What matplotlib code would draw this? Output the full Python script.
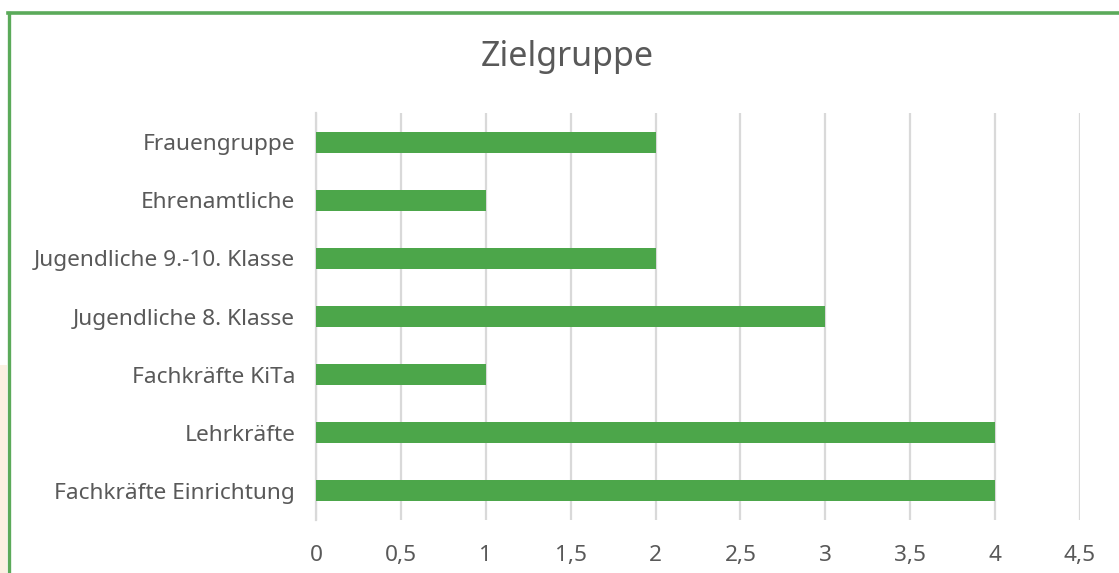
import matplotlib
matplotlib.use("Agg")
import matplotlib.pyplot as plt
from matplotlib.patches import Rectangle
from matplotlib.lines import Line2D
from matplotlib.ticker import FuncFormatter, MultipleLocator

categories = ["Fachkräfte Einrichtung", "Lehrkräfte", "Fachkräfte KiTa",
              "Jugendliche 8. Klasse", "Jugendliche 9.-10. Klasse",
              "Ehrenamtliche", "Frauengruppe"]
values = [4, 4, 1, 3, 2, 1, 2]
title = "Zielgruppe"

W, H = 1119, 573
plt.rcParams['font.family'] = ['Noto Sans', 'DejaVu Sans']
fig = plt.figure(figsize=(W / 100, H / 100), dpi=100)
fig.patch.set_facecolor("white")

def fx(px):
    return px / W

def fy(py):
    return 1 - py / H

# beige strip at left and green frame
fig.add_artist(Rectangle((0, 0), fx(7), fy(365), transform=fig.transFigure,
                         facecolor="#FBF0E2", edgecolor="none", zorder=0))
fig.add_artist(Line2D([fx(8), 1], [fy(13), fy(13)], transform=fig.transFigure,
                      color="#5BAA5A", lw=2.6))
fig.add_artist(Line2D([fx(9), fx(9)], [0, fy(13)], transform=fig.transFigure,
                      color="#5BAA5A", lw=2.4))

ax = fig.add_axes([fx(316), fy(520), fx(1080) - fx(316), fy(113) - fy(520)])
ypos = list(range(len(categories)))
ax.barh(ypos, values, height=0.36, color="#4CA64A", zorder=3)
ax.set_yticks(ypos)
ax.set_yticklabels(categories)
ax.set_ylim(-0.5, len(categories) - 0.5)
ax.set_xlim(0, 4.5)
ax.xaxis.set_major_locator(MultipleLocator(0.5))
ax.xaxis.set_major_formatter(FuncFormatter(
    lambda v, p: ("%g" % v).replace(".", ",")))
ax.grid(axis="x", color="#D9D9D9", lw=1.6, zorder=0)
ax.set_axisbelow(True)
for s in ["top", "right", "bottom"]:
    ax.spines[s].set_visible(False)
ax.spines["left"].set_color("#D9D9D9")
ax.spines["left"].set_linewidth(1.6)
ax.tick_params(axis="both", length=0, labelsize=16.3, labelcolor="#595959")
ax.tick_params(axis="y", pad=15)
ax.tick_params(axis="x", pad=18)

fig.text(fx(567), fy(57), title, ha="center", va="center",
         fontsize=24.5, color="#595959")

fig.savefig("out.png", dpi=100, facecolor="white")
